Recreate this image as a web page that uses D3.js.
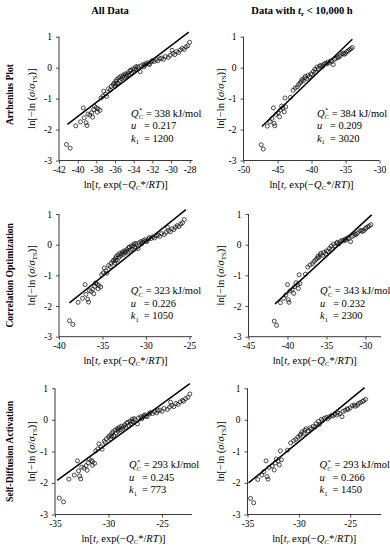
<!DOCTYPE html>
<html><head><meta charset="utf-8">
<script src="https://cdn.jsdelivr.net/npm/d3@7"></script>
<style>
body{margin:0;background:#fff}
svg{display:block}
text{font-family:"Liberation Serif","Times New Roman",serif;fill:#000}
</style>
</head><body>
<svg id="c" width="390" height="550"></svg>
<script>
// ---------- DATA ----------
const columnTitles = ["All Data", "Data with t_r < 10,000 h"];
const rowTitles = ["Arrhenius Plot", "Correlation Optimization", "Self-Diffusion Activation"];
const yTicks = [-3, -2, -1, 0, 1];

// All data: y values shared by the three rows (same specimens)
const yAll = [-2.48,-2.60,-1.88,-1.75,-1.30,-1.62,-1.78,-1.87,-1.50,-1.53,
 -1.45,-1.60,-1.36,-1.25,-1.29,-1.44,-1.33,-1.38,-0.98,-0.92,
 -0.76,-0.85,-0.93,-0.68,-0.72,-0.60,-0.55,-0.50,-0.60,-0.44,
 -0.52,-0.38,-0.50,-0.33,-0.42,-0.28,-0.36,-0.30,-0.24,-0.32,
 -0.20,-0.27,-0.22,-0.16,-0.24,-0.10,-0.08,-0.18,-0.04,-0.14,
 -0.05,0.02,-0.07,0.04,0.00,-0.13,0.06,0.10,0.03,0.08,
 0.13,0.16,0.12,0.10,0.19,0.23,0.20,0.26,0.22,0.29,
 0.31,0.27,0.36,0.33,0.40,0.56,0.46,0.42,0.52,0.49,
 0.57,0.62,0.59,0.67,0.71,0.82];
const xArrAll = [-41.2,-40.8,-40.2,-39.7,-39.4,-39.3,-39.1,-39.0,-38.9,-38.7,
 -38.5,-38.4,-38.3,-38.2,-38.0,-37.9,-37.8,-37.6,-37.5,-37.3,
 -37.2,-37.0,-36.9,-36.7,-36.5,-36.4,-36.2,-36.1,-36.0,-35.9,
 -35.9,-35.8,-35.7,-35.6,-35.5,-35.4,-35.3,-35.2,-35.1,-35.0,
 -34.9,-34.8,-34.7,-34.6,-34.5,-34.4,-34.3,-34.2,-34.1,-34.0,
 -33.9,-33.8,-33.7,-33.6,-33.5,-33.3,-33.2,-33.0,-32.9,-32.8,
 -32.7,-32.5,-32.4,-32.3,-32.1,-32.0,-31.8,-31.6,-31.4,-31.2,
 -31.0,-30.8,-30.6,-30.3,-30.1,-29.9,-29.8,-29.6,-29.4,-29.2,
 -29.0,-28.8,-28.6,-28.4,-28.2,-28.0];
const xCorAll = [-38.8,-38.4,-37.8,-37.3,-37.0,-36.9,-36.7,-36.6,-36.5,-36.3,
 -36.1,-36.0,-35.9,-35.8,-35.6,-35.5,-35.4,-35.2,-35.1,-34.9,
 -34.8,-34.6,-34.5,-34.3,-34.1,-34.0,-33.8,-33.7,-33.6,-33.5,
 -33.5,-33.4,-33.3,-33.2,-33.1,-33.0,-32.9,-32.8,-32.7,-32.6,
 -32.5,-32.4,-32.3,-32.2,-32.1,-32.0,-31.9,-31.8,-31.7,-31.6,
 -31.5,-31.4,-31.3,-31.2,-31.1,-30.9,-30.8,-30.6,-30.5,-30.4,
 -30.3,-30.1,-30.0,-29.9,-29.7,-29.6,-29.4,-29.2,-29.0,-28.8,
 -28.6,-28.4,-28.2,-27.9,-27.7,-27.5,-27.4,-27.2,-27.0,-26.8,
 -26.6,-26.4,-26.2,-26.0,-25.8,-25.6];
const xSdaAll = [-34.6,-34.2,-33.7,-33.2,-32.9,-32.8,-32.7,-32.6,-32.5,-32.3,
 -32.1,-32.0,-31.9,-31.8,-31.6,-31.5,-31.5,-31.3,-31.2,-31.0,
 -30.9,-30.7,-30.6,-30.4,-30.3,-30.2,-30.0,-29.9,-29.8,-29.7,
 -29.7,-29.6,-29.5,-29.4,-29.3,-29.2,-29.1,-29.1,-29.0,-28.9,
 -28.8,-28.7,-28.6,-28.5,-28.4,-28.3,-28.2,-28.1,-28.0,-27.9,
 -27.8,-27.8,-27.7,-27.6,-27.5,-27.3,-27.2,-27.0,-26.9,-26.8,
 -26.7,-26.6,-26.5,-26.4,-26.2,-26.1,-25.9,-25.7,-25.5,-25.4,
 -25.2,-25.0,-24.8,-24.5,-24.3,-24.2,-24.1,-23.9,-23.7,-23.5,
 -23.3,-23.1,-23.0,-22.8,-22.6,-22.4];

// Data with t_r < 10,000 h
const ySub = [-2.49,-2.63,-1.89,-1.75,-1.30,-1.64,-1.80,-1.88,-1.51,-1.46,
 -1.59,-1.37,-1.24,-1.30,-1.43,-1.27,-0.98,-0.96,-0.73,-0.66,
 -0.62,-0.55,-0.50,-0.45,-0.38,-0.42,-0.33,-0.28,-0.35,-0.25,
 -0.30,-0.20,-0.22,-0.12,-0.05,-0.15,0.02,-0.03,0.05,0.08,
 0.03,0.10,0.14,0.12,0.18,0.15,0.22,0.20,0.10,0.27,
 0.30,0.35,0.33,0.38,0.45,0.47,0.43,0.46,0.52,0.55,
 0.58,0.61,0.65];
const xArrSub = [-47.4,-47.1,-46.5,-46.1,-45.6,-45.8,-45.5,-45.4,-45.2,-44.9,
 -44.7,-44.6,-44.4,-44.2,-44.0,-43.8,-43.9,-43.1,-42.7,-42.4,
 -42.1,-41.9,-41.7,-41.5,-41.4,-41.2,-41.0,-40.9,-40.7,-40.5,
 -40.3,-40.1,-39.9,-39.7,-39.5,-39.4,-39.2,-39.0,-38.8,-38.6,
 -38.4,-38.2,-38.0,-37.8,-37.6,-37.4,-37.2,-37.0,-36.8,-36.6,
 -36.4,-36.2,-36.0,-35.8,-35.5,-35.3,-35.2,-35.0,-34.8,-34.6,
 -34.4,-34.2,-34.0];
const xCorSub = [-41.7,-41.4,-40.9,-40.5,-40.0,-40.2,-39.9,-39.8,-39.7,-39.4,
 -39.2,-39.1,-38.9,-38.7,-38.6,-38.4,-38.5,-37.7,-37.4,-37.1,
 -36.8,-36.6,-36.4,-36.2,-36.1,-36.0,-35.8,-35.7,-35.5,-35.3,
 -35.1,-35.0,-34.8,-34.6,-34.4,-34.3,-34.1,-33.9,-33.7,-33.6,
 -33.4,-33.2,-33.0,-32.8,-32.6,-32.5,-32.3,-32.1,-31.9,-31.7,
 -31.5,-31.3,-31.2,-31.0,-30.7,-30.5,-30.4,-30.2,-30.0,-29.9,
 -29.7,-29.5,-29.3];
const xSdaSub = [-34.7,-34.4,-34.0,-33.6,-33.2,-33.4,-33.1,-33.0,-32.9,-32.6,
 -32.4,-32.3,-32.2,-32.0,-31.9,-31.7,-31.8,-31.1,-30.8,-30.5,
 -30.3,-30.1,-29.9,-29.8,-29.7,-29.5,-29.4,-29.3,-29.1,-28.9,
 -28.8,-28.6,-28.4,-28.3,-28.1,-28.0,-27.8,-27.7,-27.5,-27.3,
 -27.2,-27.0,-26.8,-26.7,-26.5,-26.3,-26.2,-26.0,-25.8,-25.7,
 -25.5,-25.3,-25.2,-25.0,-24.8,-24.6,-24.5,-24.3,-24.2,-24.0,
 -23.8,-23.7,-23.5];

// Fitted lines (end points)
const fitArrAll = [[-41.1,-1.83],[-28.1,1.15]];
const fitCorAll = [[-38.8,-1.90],[-25.4,1.14]];
const fitSdaAll = [[-34.8,-1.92],[-22.4,1.15]];
const fitArrSub = [[-47.3,-1.90],[-34.0,0.92]];
const fitCorSub = [[-41.6,-1.93],[-29.2,0.97]];
const fitSdaSub = [[-34.9,-2.00],[-23.6,1.02]];

// x tick labels
const xTicksArrAll = [-42,-40,-38,-36,-34,-32,-30,-28];
const xTicksCorAll = [-40,-35,-30,-25];
const xTicksSdaAll = [-35,-30,-25];
const xTicksArrSub = [-50,-45,-40,-35,-30];
const xTicksCorSub = [-45,-40,-35,-30];
const xTicksSdaSub = [-35,-30,-25];

// Parameters
const qValues = ["338","384","323","343","293","293"];
const uValues = ["0.217","0.209","0.226","0.232","0.245","0.266"];
const kValues = ["1200","3020","1050","2300","773","1450"];

// ---------- LAYOUT ----------
const rowTop = [36.7, 214, 388.3];
const rowBottom = [160.5, 336.7, 514.5];
const panels = [
  {row:0,col:0,x:xArrAll,y:yAll,fit:fitArrAll,ticks:xTicksArrAll,dom:[-42,-27.7],rng:[59,192.5]},
  {row:0,col:1,x:xArrSub,y:ySub,fit:fitArrSub,ticks:xTicksArrSub,dom:[-50,-30],rng:[243.5,379.5]},
  {row:1,col:0,x:xCorAll,y:yAll,fit:fitCorAll,ticks:xTicksCorAll,dom:[-40,-24.7],rng:[59,192]},
  {row:1,col:1,x:xCorSub,y:ySub,fit:fitCorSub,ticks:xTicksCorSub,dom:[-45,-28],rng:[248.5,381]},
  {row:2,col:0,x:xSdaAll,y:yAll,fit:fitSdaAll,ticks:xTicksSdaAll,dom:[-35,-22.2],rng:[55,192]},
  {row:2,col:1,x:xSdaSub,y:ySub,fit:fitSdaSub,ticks:xTicksSdaSub,dom:[-35,-22],rng:[247.5,381]}
];

const svg = d3.select("#c");
const fmt = d => String(d);

// column titles
svg.append("text").attr("x",110).attr("y",14).attr("text-anchor","middle")
  .attr("font-size",10.5).attr("font-weight","bold").text(columnTitles[0]);
const ct2 = svg.append("text").attr("x",302).attr("y",14).attr("text-anchor","middle")
  .attr("font-size",10.5).attr("font-weight","bold");
ct2.append("tspan").text("Data with ");
ct2.append("tspan").attr("font-style","italic").text("t");
ct2.append("tspan").attr("font-size",7).attr("dy",2).text("r");
ct2.append("tspan").attr("dy",-2).text(" < 10,000 h");

panels.forEach((p,i) => {
  const top = rowTop[p.row], bot = rowBottom[p.row];
  const x = d3.scaleLinear().domain(p.dom).range(p.rng);
  const y = d3.scaleLinear().domain([-3,1]).range([bot, top]);
  const g = svg.append("g");

  const xa = g.append("g").attr("transform",`translate(0,${bot})`)
    .call(d3.axisBottom(x).tickValues(p.ticks).tickSize(3).tickPadding(3).tickFormat(fmt));
  const ya = g.append("g").attr("transform",`translate(${p.rng[0]},0)`)
    .call(d3.axisLeft(y).tickValues(yTicks).tickSize(3).tickPadding(4).tickFormat(fmt));
  [xa,ya].forEach(a => {
    a.select(".domain").attr("stroke","#222").attr("stroke-width",0.9);
    a.selectAll(".tick line").attr("stroke","#222").attr("stroke-width",0.8);
    a.selectAll(".tick text").attr("font-family","Liberation Serif, serif").attr("font-size",9.5).attr("fill","#000");
  });
  xa.select(".domain").attr("d",`M${p.rng[0]},0H${p.rng[1]}`);
  ya.select(".domain").attr("d",`M0,${y(-3)}V${y(1)}`);

  // points
  const pts = p.x.map((xv,j) => [xv, p.y[j]]);
  g.append("g").selectAll("circle").data(pts).join("circle")
    .attr("cx", d => x(d[0])).attr("cy", d => y(d[1])).attr("r", 2.0)
    .attr("fill","none").attr("stroke","#111").attr("stroke-width",0.75);

  // fit line
  g.append("path").attr("d", d3.line().x(d=>x(d[0])).y(d=>y(d[1]))(p.fit))
    .attr("stroke","#000").attr("stroke-width",1.5).attr("fill","none");

  // annotation
  const ax = p.rng[0] + 0.54*(p.rng[1]-p.rng[0]);
  const a1 = top + 80, a2 = top + 92.5, a3 = top + 105;
  const fs = 10.5;
  const t1 = g.append("text").attr("x",ax).attr("y",a1).attr("font-size",fs);
  t1.append("tspan").attr("font-style","italic").text("Q");
  t1.append("tspan").attr("font-style","italic").attr("font-size",6.5).attr("dy",2.5).text("C");
  t1.append("tspan").attr("font-size",6.5).attr("dx",-4).attr("dy",-7).text("*");
  t1.append("tspan").attr("dy",4.5).attr("dx",1).text(" = " + qValues[i] + " kJ/mol");
  const t2 = g.append("text").attr("x",ax).attr("y",a2).attr("font-size",fs);
  t2.append("tspan").attr("font-style","italic").text("u");
  g.append("text").attr("x",ax+13).attr("y",a2).attr("font-size",fs).text("= " + uValues[i]);
  const t3 = g.append("text").attr("x",ax).attr("y",a3).attr("font-size",fs);
  t3.append("tspan").attr("font-style","italic").text("k");
  t3.append("tspan").attr("font-size",6.5).attr("dy",2.5).text("1");
  g.append("text").attr("x",ax+13).attr("y",a3).attr("font-size",fs).text("= " + kValues[i]);

  // x axis title
  const xt = g.append("text").attr("x",(p.rng[0]+p.rng[1])/2).attr("y",bot+27)
    .attr("text-anchor","middle").attr("font-size",10.5);
  xt.append("tspan").text("ln[");
  xt.append("tspan").attr("font-style","italic").text("t");
  xt.append("tspan").attr("font-style","italic").attr("font-size",7).attr("dy",2).text("r");
  xt.append("tspan").attr("dy",-2).text(" exp(\u2212");
  xt.append("tspan").attr("font-style","italic").text("Q");
  xt.append("tspan").attr("font-style","italic").attr("font-size",7).attr("dy",2).text("C");
  xt.append("tspan").attr("dy",-2).text("*/");
  xt.append("tspan").attr("font-style","italic").text("RT");
  xt.append("tspan").text(")]");

  // y axis title
  const yx = p.col === 0 ? 35 : 224;
  const yt = g.append("text").attr("transform",`translate(${yx},${(top+bot)/2}) rotate(-90)`)
    .attr("text-anchor","middle").attr("font-size",10.5);
  yt.append("tspan").text("ln[\u2212ln (");
  yt.append("tspan").attr("font-style","italic").text("\u03c3");
  yt.append("tspan").text("/");
  yt.append("tspan").attr("font-style","italic").text("\u03c3");
  yt.append("tspan").attr("font-size",7).attr("dy",2).text("TS");
  yt.append("tspan").attr("dy",-2).text(")]");
});

// row titles
rowTitles.forEach((t,r) => {
  svg.append("text").attr("transform",`translate(13,${(rowTop[r]+rowBottom[r])/2 - (r===0?4:0)}) rotate(-90)`)
    .attr("text-anchor","middle").attr("font-size",9.6).attr("font-weight","bold").text(t);
});
</script>
</body></html>
